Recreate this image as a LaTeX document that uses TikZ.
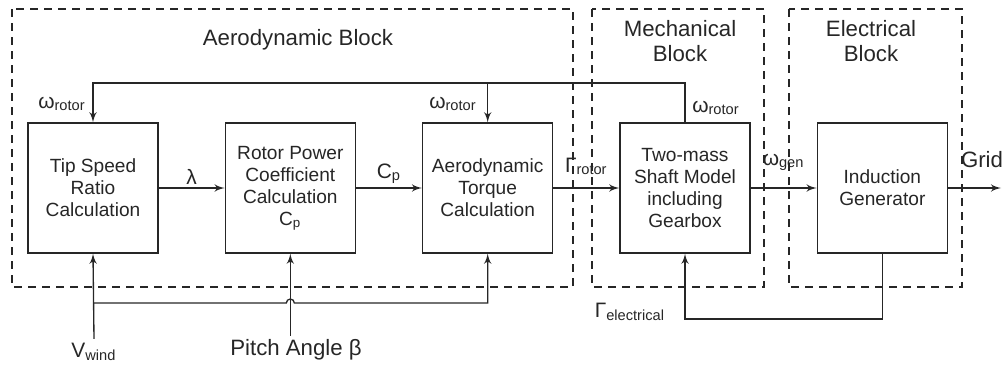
\documentclass[tikz,border=0pt]{standalone}
\usepackage{fontspec}
\setmainfont{Liberation Sans}
\usetikzlibrary{arrows, positioning}

\tikzset{
  blk/.style={draw, line width=0.6pt, minimum size=58.5pt, inner sep=0pt, align=center,
    font=\fontsize{8.6}{9.9}\selectfont},
  region/.style={draw, -, dash pattern=on 3.6pt off 2.7pt, line width=0.6pt},
  title/.style={align=center, font=\fontsize{10}{11.3}\selectfont},
  sig/.style={font=\fontsize{9.4}{11}\selectfont, inner sep=1.5pt},
}

\begin{document}
\begin{tikzpicture}[->,>=latex',x=0.45pt,y=-0.45pt,node distance=29.7pt,line width=0.6pt,color=black!85]
    \useasboundingbox (0,0) rectangle (1002,368);
    % dashed regions
    \draw[region] (12,9) rectangle (573,287);
    \draw[region] (592,9) rectangle (764,287);
    \draw[region] (789,9) rectangle (962,287);
    \node[title] (aero) at (298,40) {Aerodynamic Block};
    \node[title] (mech) at (680,41) {Mechanical\\Block};
    \node[title] (elec) at (871,41) {Electrical\\Block};

    % blocks
    \node[blk] (tsr) at (93,188) {Tip Speed\\Ratio\\Calculation};
    \node[blk, right=of tsr] (cp) {Rotor Power\\Coefficient\\Calculation\\C\textsubscript{p}};
    \node[blk, right=of cp] (torque) {Aerodynamic\\Torque\\Calculation};
    \node[blk, right=of torque] (shaft) {Two-mass\\Shaft Model\\including\\Gearbox};
    \node[blk, right=of shaft] (gen) {Induction\\Generator};

    % helper coordinates
    \coordinate (top) at (0,83);
    \coordinate (bot) at (0,303);
    \coordinate (fb) at (0,319);
    \coordinate (gridend) at (1001,188);

    % signal labels
    \node[sig] (wind) at (94,352) {V\textsubscript{wind}};
    \node[sig, font=\fontsize{10}{12}\selectfont] (pitch) at (296,350) {Pitch Angle β};
    \node[sig] (w1) at (62,104) {ω\textsubscript{rotor}};
    \node[sig] (w2) at (453,104) {ω\textsubscript{rotor}};
    \node[sig] (w3) at (716,108) {ω\textsubscript{rotor}};
    \node[sig] (grid) at (982,160) {\fontsize{10}{12}\selectfont Grid};
    \node[sig] (gelec) at (630,312) {Γ\textsubscript{electrical}};

    % forward path
    \draw (tsr.east) -- (cp.west) node[midway, above, sig] (lam) {λ};
    \draw (cp.west -| cp.east) -- (torque.west) node[midway, above, sig] (cpl) {C\textsubscript{p}};
    \draw (torque.east) -- (shaft.west) node[midway, above=4pt, sig] (grot) {Γ\textsubscript{rotor}};
    \draw (shaft.east) -- (gen.west) node[midway, above=6pt, sig] (wgen) {ω\textsubscript{gen}};
    \draw (gen.east) -- (gridend);

    % rotor speed feedback
    \draw (shaft.north) -- (shaft.north |- top) -| (tsr.north);
    \draw (torque.north |- top) -- (torque.north);

    % wind and pitch inputs
    \draw (wind.north) -- (tsr.south);
    \draw (cp.south |- pitch.north) -- (cp.south);
    \draw (tsr.south |- bot) -- ([xshift=-1.8pt]cp.south |- bot)
        arc[start angle=180, end angle=0, radius=1.8pt] -- (torque.south |- bot) -- (torque.south);

    % electrical torque feedback
    \draw (gen.south) -- (gen.south |- fb) -| (shaft.south);
\end{tikzpicture}
\end{document}
